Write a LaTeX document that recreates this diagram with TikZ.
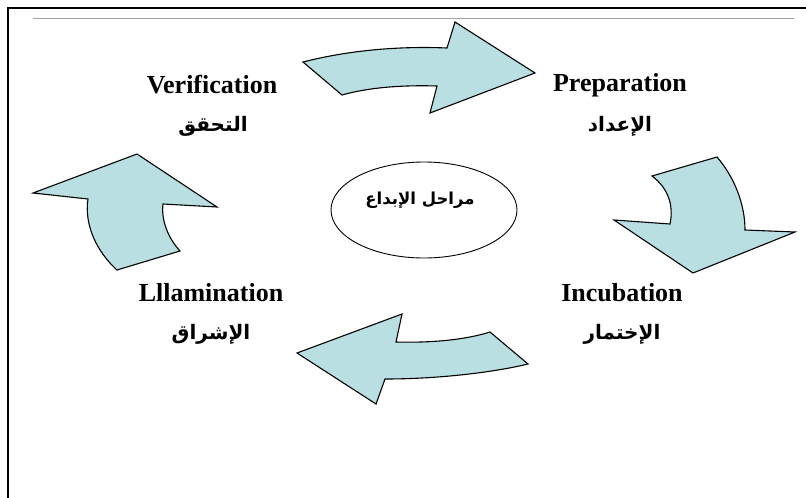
\documentclass[tikz,border=0pt]{standalone}
\usepackage{fontspec}
\setmainfont{Liberation Serif}
\newfontfamily\arabicfont[Script=Arabic]{DejaVu Sans}
\TeXXeTstate=1
\usetikzlibrary{shapes.geometric}
\definecolor{arrowfill}{RGB}{185,223,227}
\definecolor{rulegray}{RGB}{160,160,160}
\tikzset{
  bigarrow/.style={fill=arrowfill, draw=black, line width=1.1pt, line join=miter},
  latinlabel/.style={font=\fontsize{26}{28}\selectfont\bfseries, inner sep=0pt},
  arabiclabel/.style={font=\arabicfont\fontsize{20}{22}\selectfont\bfseries, inner sep=0pt},
  stageellipse/.style={ellipse, draw=black, line width=0.9pt, minimum width=186pt, minimum height=96pt, inner sep=0pt}
}
\begin{document}
\begin{tikzpicture}[x=1pt,y=-1pt]
\useasboundingbox (0,0) rectangle (806,498);
\fill[white] (0,0) rectangle (806,498);
% frame
\draw[line width=2pt] (8,510) -- (8,8) -- (820,8);
\draw[rulegray, line width=1pt] (33,18) -- (794,18);

% top arrow (right)
\draw[bigarrow] (303,62) .. controls (350,50) and (400,46) .. (447,48) -- (455,22) -- (535,73) -- (430,113) -- (437,86)
  .. controls (405,85) and (370,87) .. (342,95) -- cycle;
% right arrow (down)
\draw[bigarrow] (652,176) -- (717,157) .. controls (735,178) and (745,205) .. (745,230) -- (795,232) -- (693,273) -- (614,220) -- (670,224)
  .. controls (674,205) and (668,188) .. (652,176) -- cycle;
% bottom arrow (left)
\draw[bigarrow] (490,332) -- (528,364) .. controls (495,372) and (440,379) .. (385,379) -- (376,404) -- (297,353) -- (402,314) -- (396,342)
  .. controls (430,343) and (465,340) .. (490,332) -- cycle;
% left arrow (up)
\draw[bigarrow] (117,270) -- (180,251) .. controls (168,238) and (161,220) .. (163,204) -- (217,207) -- (137,154) -- (33,193) -- (88,199)
  .. controls (84,225) and (97,252) .. (117,270) -- cycle;

% centre ellipse
\node[stageellipse] (stages) at (424,210) {};
\node[font=\arabicfont\fontsize{16.5}{18}\selectfont\bfseries, inner sep=0pt] (stagestext) at (420,200) {\beginR مراحل الإبداع\endR};

% labels
\node[latinlabel] (verif) at (212,85) {Verification};
\node[arabiclabel] (verifar) at (213,126) {\beginR التحقق\endR};
\node[latinlabel] (prep) at (620,85) {Preparation};
\node[arabiclabel] (prepar) at (620,126) {\beginR الإعداد\endR};
\node[latinlabel] (illum) at (211,293) {Lllamination};
\node[arabiclabel] (illumar) at (211,334) {\beginR الإشراق\endR};
\node[latinlabel] (incub) at (622,293) {Incubation};
\node[arabiclabel] (incubar) at (622,334) {\beginR الإختمار\endR};
\end{tikzpicture}
\end{document}
